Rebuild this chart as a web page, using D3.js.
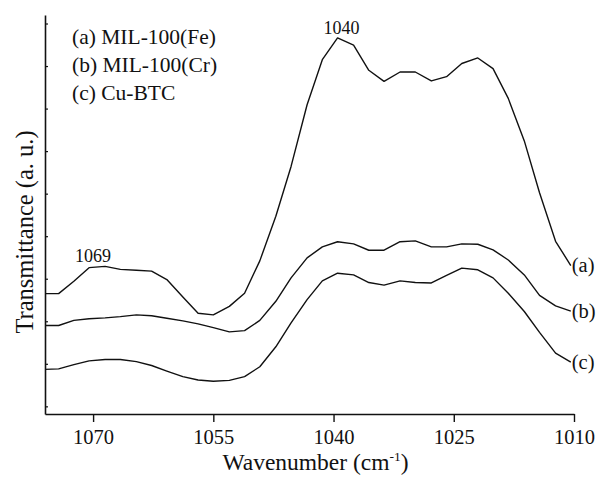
<!DOCTYPE html>
<html>
<head>
<meta charset="utf-8">
<script src="https://cdn.jsdelivr.net/npm/d3@7"></script>
<style>
  html, body { margin: 0; padding: 0; background: #fff; }
  svg { display: block; }
  text { font-family: "Liberation Serif", "Times New Roman", serif; fill: #111; }
</style>
</head>
<body>
<svg id="chart" width="603" height="484"></svg>
<script>
// FTIR spectra, wavenumber in cm^-1 (decreasing left to right)
const wavenumbers = [1076.0, 1074.3, 1072.4, 1070.5, 1068.5, 1066.6, 1064.6, 1062.7, 1060.8, 1058.8,
  1056.9, 1055.0, 1053.0, 1051.1, 1049.2, 1047.2, 1045.3, 1043.3, 1041.4, 1039.5,
  1037.5, 1035.6, 1033.7, 1031.7, 1029.8, 1027.8, 1025.9, 1024.0, 1022.0, 1020.1,
  1018.2, 1016.2, 1014.3, 1012.3, 1010.4];

// Transmittance (arbitrary units, offset traces)
const milFe = [2.65, 2.65, 2.94, 3.26, 3.29, 3.22, 3.20, 3.18, 2.98, 2.57,
  2.19, 2.15, 2.35, 2.66, 3.42, 4.47, 5.64, 7.09, 8.15, 8.66,
  8.49, 7.90, 7.64, 7.86, 7.86, 7.65, 7.75, 8.06, 8.19, 7.94,
  7.24, 6.24, 5.02, 3.88, 3.31];
const milCr = [1.90, 1.90, 2.02, 2.06, 2.08, 2.11, 2.15, 2.13, 2.07, 2.01,
  1.94, 1.85, 1.75, 1.78, 2.02, 2.47, 3.02, 3.49, 3.75, 3.87,
  3.82, 3.67, 3.67, 3.87, 3.89, 3.75, 3.75, 3.82, 3.81, 3.68,
  3.44, 3.09, 2.61, 2.36, 2.24];
const cuBTC = [0.87, 0.88, 0.98, 1.07, 1.10, 1.10, 1.05, 0.96, 0.83, 0.70,
  0.62, 0.59, 0.61, 0.70, 0.93, 1.40, 1.96, 2.51, 2.95, 3.13,
  3.09, 2.91, 2.85, 2.95, 2.91, 2.90, 3.08, 3.25, 3.21, 3.02,
  2.66, 2.23, 1.74, 1.25, 1.04];

const seriesTags = ["(a)", "(b)", "(c)"];
const legendLines = ["(a) MIL-100(Fe)", "(b) MIL-100(Cr)", "(c) Cu-BTC"];
const xTicks = [1070, 1055, 1040, 1025, 1010];
const yTicks = [0, 1, 2, 3, 4, 5, 6, 7, 8, 9];
const peakLabels = [
  { text: "1069", wn: 1068.5, series: 0 },
  { text: "1040", wn: 1039.5, series: 0 }
];

const svg = d3.select("#chart");
const plot = { left: 45, right: 574, top: 15, bottom: 414 };

const x = d3.scaleLinear().domain([1076, 1010]).range([plot.left, plot.right]);
const y = d3.scaleLinear().domain([-0.18, 9.2]).range([plot.bottom, plot.top]);

const allSeries = [milFe, milCr, cuBTC];
const serif = '"Liberation Serif", "Times New Roman", serif';

// Axes
const xAxis = d3.axisBottom(x).tickValues(xTicks).tickSize(8).tickSizeOuter(0).tickPadding(7)
  .tickFormat(d3.format("d"));
const gx = svg.append("g").attr("transform", `translate(0,${plot.bottom})`).call(xAxis);
gx.attr("font-family", serif);
gx.select(".domain").attr("stroke", "#111").attr("stroke-width", 1.6);
gx.selectAll(".tick line").attr("stroke", "#111").attr("stroke-width", 1.4);
gx.selectAll(".tick text").attr("font-size", 20.5).attr("fill", "#111").style("font-family", serif);

const yAxis = d3.axisLeft(y).tickValues(yTicks).tickSize(-3).tickSizeOuter(0).tickFormat("");
const gy = svg.append("g").attr("transform", `translate(${plot.left},0)`).call(yAxis);
gy.select(".domain").attr("stroke", "#111").attr("stroke-width", 1.6);
gy.selectAll(".tick line").attr("stroke", "#111").attr("stroke-width", 1.2);

// Spectra
const line = d3.line().x((d, i) => x(wavenumbers[i])).y(d => y(d));
allSeries.forEach((s, k) => {
  svg.append("path").datum(s)
    .attr("d", line)
    .attr("fill", "none")
    .attr("stroke", "#111")
    .attr("stroke-width", 1.4)
    .attr("stroke-linejoin", "round");
  const last = s.length - 1;
  svg.append("text")
    .attr("x", x(wavenumbers[last]) + 1)
    .attr("y", y(s[last]))
    .attr("dy", "0.33em")
    .attr("font-size", 20.5)
    .text(seriesTags[k]);
});

// Peak annotations (horizontal nudge keeps the text clear of the trace)
const peakNudge = { "1069": -12, "1040": 4 };
peakLabels.forEach(p => {
  const i = wavenumbers.indexOf(p.wn);
  svg.append("text")
    .attr("x", x(p.wn) + peakNudge[p.text])
    .attr("y", y(allSeries[p.series][i]) - 4)
    .attr("text-anchor", "middle")
    .attr("font-size", 18)
    .text(p.text);
});

// Legend
legendLines.forEach((t, i) => {
  svg.append("text")
    .attr("x", 72)
    .attr("y", 44 + i * 28.2)
    .attr("font-size", 21.5)
    .text(t);
});

// Axis titles
const xt = svg.append("text")
  .attr("x", (plot.left + plot.right) / 2 + 6)
  .attr("y", 470)
  .attr("text-anchor", "middle")
  .attr("font-size", 23.5);
xt.append("tspan").text("Wavenumber (cm");
xt.append("tspan").attr("font-size", 13.5).attr("dy", -9).text("-1");
xt.append("tspan").attr("dy", 9).text(")");

svg.append("text")
  .attr("transform", "translate(33,232) rotate(-90)")
  .attr("text-anchor", "middle")
  .attr("font-size", 24.5)
  .text("Transmittance (a. u.)");
</script>
</body>
</html>
